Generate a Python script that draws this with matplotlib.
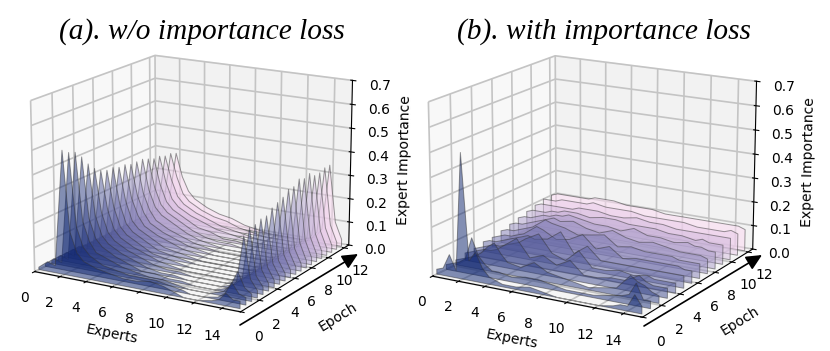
import matplotlib
matplotlib.use("Agg")
import matplotlib.pyplot as plt
import numpy as np
from matplotlib.collections import PolyCollection
from matplotlib.colors import LinearSegmentedColormap

titles = ["(a). w/o importance loss", "(b). with importance loss"]
x_ticks = [0, 2, 4, 6, 8, 10, 12, 14]
y_ticks = [0, 2, 4, 6, 8, 10, 12]
z_ticks = [0.0, 0.1, 0.2, 0.3, 0.4, 0.5, 0.6, 0.7]

a_experts = [0, 0.7, 1.3, 2, 2.5, 3, 3.5, 4.5, 5.5, 6.5, 7.5, 8.5, 9.5, 10.5, 11, 12, 13, 13.5, 14, 14.5, 15]
a_epochs = [0.4, 1.02, 1.64, 2.26, 2.88, 3.5, 4.12, 4.74, 5.36, 5.98, 6.6, 7.22, 7.84, 8.46, 9.08, 9.7, 10.32, 10.94, 11.56, 12.18]
a_values = [
    [.01, .04, .03, .51, .18, .10, .07, .05, .04, .03, .03, .04, .03, .01, .00, .00, .01, .02, .05, .03, .03],
    [.01, .04, .03, .49, .19, .11, .08, .05, .04, .03, .03, .03, .02, .01, .00, .00, .01, .03, .08, .04, .03],
    [.01, .04, .03, .48, .20, .12, .08, .06, .04, .03, .02, .02, .01, .00, .00, .00, .02, .05, .11, .05, .03],
    [.01, .04, .03, .45, .20, .12, .09, .06, .04, .02, .02, .01, .01, .00, .00, .00, .02, .05, .24, .07, .03],
    [.01, .04, .03, .41, .20, .12, .09, .06, .04, .02, .01, .01, .00, .00, .00, .00, .02, .05, .26, .07, .03],
    [.01, .04, .03, .38, .20, .12, .09, .06, .04, .02, .01, .01, .00, .00, .00, .00, .02, .05, .26, .08, .03],
    [.01, .03, .03, .36, .20, .12, .09, .06, .04, .02, .01, .00, .00, .00, .00, .00, .02, .05, .27, .08, .03],
    [.01, .03, .03, .35, .20, .12, .09, .06, .03, .02, .01, .00, .00, .00, .00, .00, .02, .05, .27, .08, .03],
    [.01, .03, .03, .35, .20, .12, .09, .06, .03, .02, .01, .00, .00, .00, .00, .00, .02, .05, .29, .08, .03],
    [.01, .03, .03, .34, .20, .12, .09, .06, .03, .02, .01, .00, .00, .00, .00, .00, .02, .05, .30, .09, .03],
    [.01, .03, .03, .34, .20, .13, .09, .06, .04, .02, .01, .00, .00, .00, .00, .00, .02, .06, .31, .09, .03],
    [.01, .03, .03, .33, .20, .13, .09, .06, .04, .02, .01, .00, .00, .00, .00, .00, .02, .06, .33, .09, .03],
    [.01, .03, .03, .33, .20, .13, .09, .06, .04, .02, .01, .00, .00, .00, .00, .00, .02, .06, .33, .10, .03],
    [.01, .03, .03, .33, .20, .13, .10, .07, .04, .02, .01, .00, .00, .00, .00, .00, .02, .06, .35, .10, .03],
    [.01, .03, .03, .32, .20, .13, .10, .07, .04, .02, .01, .01, .00, .00, .00, .00, .02, .06, .34, .10, .03],
    [.01, .03, .03, .31, .20, .13, .10, .07, .04, .03, .01, .01, .00, .00, .00, .00, .02, .06, .35, .10, .03],
    [.01, .03, .03, .31, .20, .13, .10, .07, .05, .03, .02, .01, .00, .00, .00, .00, .02, .06, .33, .10, .03],
    [.01, .03, .03, .30, .20, .13, .10, .07, .05, .03, .02, .01, .00, .00, .00, .00, .02, .06, .33, .10, .03],
    [.01, .03, .03, .30, .20, .13, .10, .07, .05, .04, .02, .01, .00, .00, .00, .00, .02, .06, .34, .10, .03],
    [.01, .03, .03, .29, .19, .13, .10, .07, .05, .04, .02, .01, .00, .00, .00, .00, .02, .06, .34, .10, .03],
]

b_experts = [0, 0.5, 1, 1.5, 2, 2.5, 3, 3.5, 4, 5, 6, 7, 8, 9, 10, 11, 12, 13, 13.5, 14, 14.5, 15]
b_epochs = [0.4, 1.3, 2.2, 3.1, 4, 4.9, 5.8, 6.7, 7.6, 8.5, 9.4, 10.3, 11.2, 12.1]
b_values = [
    [.02, .03, .09, .03, .51, .08, .12, .06, .03, .01, .01, .02, .01, .00, .00, .00, .00, .01, .02, .02, .07, .03],
    [.02, .03, .04, .06, .15, .08, .05, .03, .03, .02, .03, .03, .02, .01, .01, .01, .02, .03, .04, .09, .03, .03],
    [.02, .03, .04, .05, .07, .10, .12, .08, .05, .04, .07, .04, .03, .02, .01, .02, .03, .09, .07, .06, .04, .03],
    [.03, .04, .05, .06, .06, .07, .09, .11, .13, .06, .08, .05, .08, .03, .03, .04, .04, .07, .05, .04, .04, .04],
    [.03, .04, .05, .06, .06, .07, .08, .09, .11, .14, .07, .05, .10, .04, .04, .05, .04, .05, .04, .04, .04, .04],
    [.04, .05, .05, .06, .07, .08, .09, .10, .09, .10, .14, .06, .10, .05, .05, .05, .05, .05, .05, .05, .05, .05],
    [.04, .05, .06, .06, .07, .08, .10, .12, .11, .08, .09, .12, .07, .09, .05, .06, .06, .06, .06, .06, .05, .05],
    [.05, .06, .06, .07, .08, .09, .11, .13, .12, .11, .09, .10, .11, .07, .08, .07, .07, .07, .06, .06, .06, .06],
    [.06, .07, .07, .08, .09, .10, .11, .12, .11, .12, .10, .09, .11, .09, .08, .09, .08, .07, .07, .07, .07, .06],
    [.07, .08, .08, .09, .10, .10, .11, .11, .12, .11, .10, .10, .09, .11, .09, .09, .08, .09, .08, .08, .07, .07],
    [.08, .09, .09, .09, .10, .10, .11, .11, .11, .10, .11, .11, .10, .10, .10, .09, .09, .08, .09, .08, .08, .08],
    [.09, .10, .10, .10, .10, .10, .10, .11, .11, .11, .10, .10, .11, .10, .10, .09, .09, .09, .09, .09, .09, .09],
    [.10, .10, .10, .11, .11, .11, .11, .11, .12, .11, .11, .11, .10, .10, .10, .10, .09, .09, .09, .09, .10, .09],
    [.10, .11, .11, .11, .11, .11, .11, .12, .12, .12, .11, .11, .11, .10, .10, .10, .10, .10, .10, .10, .10, .09],
]

cmap = LinearSegmentedColormap.from_list("epochs", ["#0d2570", "#7a78b2", "#fcdaf3"])

plt.rcParams["grid.color"] = "#c4c4c4"
plt.rcParams["grid.linewidth"] = 1.2


def draw_panel(fig, rect, experts, epochs, values):
    ax = fig.add_axes(rect, projection="3d")
    ax.patch.set_alpha(0)
    verts = []
    for row in values:
        verts.append([(experts[0], 0)] + list(zip(experts, row)) + [(experts[-1], 0)])
    colors = cmap(np.linspace(0, 1, len(epochs)))
    polys = PolyCollection(verts, facecolors=colors, edgecolors="#333333", linewidths=0.7, alpha=0.5)
    ax.add_collection3d(polys, zs=epochs, zdir="y")
    ax.set_xlim(0, 15.3)
    ax.set_ylim(0, 12.6)
    ax.set_zlim(0, 0.7)
    ax.set_xticks(x_ticks)
    ax.set_yticks(y_ticks)
    ax.set_zticks(z_ticks)
    ax.tick_params(axis="x", pad=3, labelsize=10)
    ax.tick_params(axis="y", pad=3, labelsize=10)
    ax.tick_params(axis="z", pad=4, labelsize=10)
    ax.set_xlabel("Experts", labelpad=3, fontsize=10)
    ax.set_ylabel("Epoch", labelpad=5, fontsize=10)
    ax.set_zlabel("Expert Importance", labelpad=3, fontsize=10)
    ax.view_init(elev=16, azim=-60)
    return ax


fig = plt.figure(figsize=(8.3, 3.51), dpi=100)
draw_panel(fig, [-0.0235, -0.028, 0.505, 1.03], a_experts, a_epochs, a_values)
draw_panel(fig, [0.4545, -0.046, 0.515, 1.05], b_experts, b_epochs, b_values)

for title, cx in zip(titles, [201.5, 604]):
    fig.text(cx / 830, 1 - 32 / 351, title, ha="center", va="center", fontsize=21.2,
             family="Liberation Serif", style="italic")

for x0, y0, x1, y1 in [(240, 325, 358, 254), (644, 326, 762, 255)]:
    fig.add_artist(plt.Annotation("", xy=(x1 / 830, 1 - y1 / 351), xytext=(x0 / 830, 1 - y0 / 351),
                                  xycoords="figure fraction", textcoords="figure fraction",
                                  arrowprops=dict(arrowstyle="-|>,head_width=0.45,head_length=0.95", color="black", lw=1.2,
                                                  shrinkA=0, shrinkB=0)))

fig.savefig("out.png", dpi=100)
